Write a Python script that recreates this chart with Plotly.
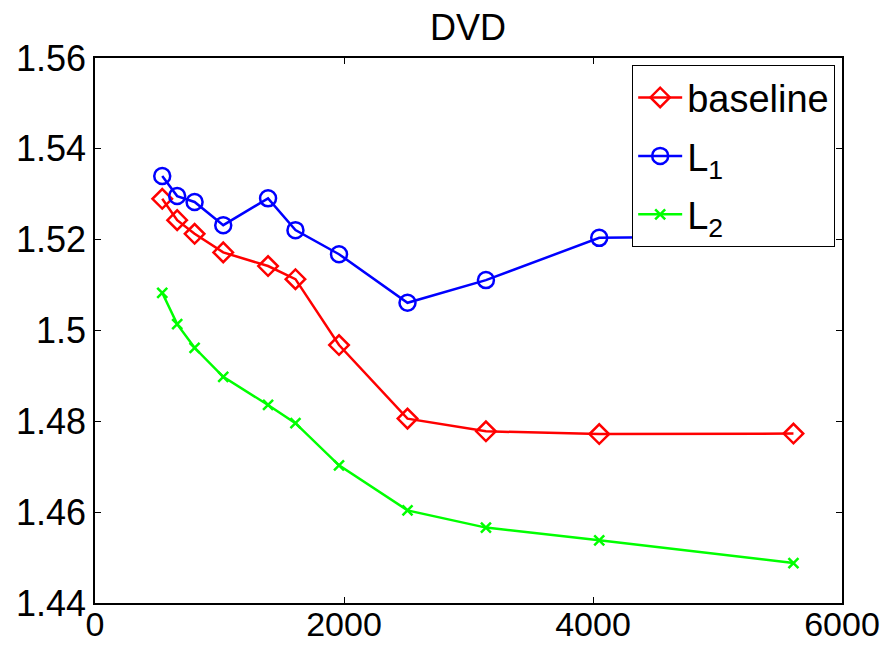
import plotly.graph_objects as go

x_vals = [540, 660, 800, 1030, 1390, 1610, 1960, 2510, 3140, 4050, 5610]
baseline = [1.5290, 1.5243, 1.5213, 1.5172, 1.5142, 1.5113, 1.4968, 1.4806, 1.4778, 1.4772, 1.4773]
l1 = [1.5340, 1.5296, 1.5283, 1.5232, 1.5291, 1.5221, 1.5168, 1.5061, 1.5111, 1.5204, 1.5208]
l2 = [1.5083, 1.5014, 1.4962, 1.4898, 1.4836, 1.4796, 1.4703, 1.4604, 1.4566, 1.4538, 1.4488]
y_ticks = [1.44, 1.46, 1.48, 1.5, 1.52, 1.54, 1.56]
x_ticks = [0, 2000, 4000, 6000]

fig = go.Figure()
fig.add_trace(go.Scatter(x=x_vals, y=baseline, name="baseline", mode="lines+markers", legendgroup="a",
                         line=dict(color="#ff0000", width=2.5),
                         marker=dict(symbol="diamond-open", size=15, color="#ff0000", line=dict(width=2.5))))
fig.add_trace(go.Scatter(x=x_vals, y=l1, name="L<sub>1</sub>", mode="lines+markers", legendgroup="b",
                         line=dict(color="#0000ff", width=2.5),
                         marker=dict(symbol="circle-open", size=16, color="#0000ff", line=dict(width=2.5))))
fig.add_trace(go.Scatter(x=x_vals, y=l2, name="L<sub>2</sub>", mode="lines+markers", legendgroup="c",
                         line=dict(color="#00ff00", width=2.5),
                         marker=dict(symbol="x-thin", size=10, color="#00ff00", line=dict(width=2.5, color="#00ff00"))))

fig.update_layout(
    width=887, height=645,
    margin=dict(l=95, r=45, t=58, b=42, autoexpand=False),
    paper_bgcolor="white", plot_bgcolor="white",
    font=dict(family="Liberation Sans, Arial, sans-serif", size=36, color="black"),
    title=dict(text="DVD", x=468 / 887, xanchor="center", y=1 - 27 / 645, yanchor="middle",
               font=dict(size=36)),
    legend=dict(x=0.9906, xanchor="right", y=0.987, yanchor="top",
                bgcolor="white", bordercolor="black", borderwidth=1.2,
                font=dict(size=38), tracegroupgap=6, itemwidth=44),
    showlegend=True,
)
fig.update_xaxes(range=[0, 6000], tickvals=x_ticks, showgrid=False, zeroline=False,
                 showline=True, linecolor="black", linewidth=1.5, mirror="ticks",
                 ticks="inside", ticklen=6, tickcolor="black", automargin=False,
                 tickfont=dict(size=34), ticklabelstandoff=-10)
fig.update_yaxes(range=[1.44, 1.56], tickvals=y_ticks, showgrid=False, zeroline=False,
                 showline=True, linecolor="black", linewidth=1.5, mirror="ticks",
                 ticks="inside", ticklen=6, tickcolor="black", automargin=False,
                 tickfont=dict(size=36))

fig.write_html("out.html")
